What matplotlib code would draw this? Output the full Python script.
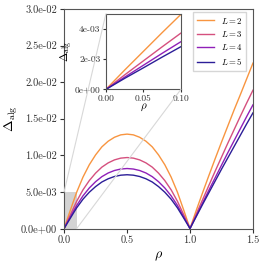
import numpy as np
import matplotlib
matplotlib.use('Agg')
import matplotlib.pyplot as plt
from matplotlib.patches import Rectangle, ConnectionPatch
from matplotlib.ticker import FormatStrFormatter

plt.rcParams['font.family'] = 'serif'
plt.rcParams['font.serif'] = ['cmr10', 'DejaVu Serif']
plt.rcParams['mathtext.fontset'] = 'cm'
plt.rcParams['axes.unicode_minus'] = False

# valores
rho = [0.0, 0.025, 0.05, 0.075, 0.1, 0.15, 0.2, 0.25, 0.3, 0.35, 0.4, 0.45, 0.5,
       0.55, 0.6, 0.65, 0.7, 0.75, 0.8, 0.85, 0.9, 0.95, 1.0,
       1.05, 1.1, 1.15, 1.2, 1.25, 1.3, 1.35, 1.4, 1.45, 1.5]

d_L2 = [0, 1.28, 2.52, 3.76, 4.97, 7.03, 8.71, 10.06, 11.16, 11.93, 12.47, 12.80, 12.9,
        12.80, 12.47, 11.93, 11.16, 10.06, 8.71, 7.03, 4.97, 2.52, 0,
        2.5, 4.9, 7.25, 9.55, 11.8, 14.0, 16.2, 18.3, 20.45, 22.6]
d_L3 = [0, 0.96, 1.89, 2.82, 3.73, 5.29, 6.55, 7.57, 8.39, 8.97, 9.38, 9.62, 9.7,
        9.62, 9.38, 8.97, 8.39, 7.57, 6.55, 5.29, 3.73, 1.89, 0,
        2.0, 3.95, 5.9, 7.85, 9.75, 11.65, 13.5, 15.35, 17.15, 18.9]
d_L4 = [0, 0.81, 1.60, 2.39, 3.16, 4.47, 5.54, 6.40, 7.09, 7.59, 7.93, 8.13, 8.2,
        8.13, 7.93, 7.59, 7.09, 6.40, 5.54, 4.47, 3.16, 1.60, 0,
        1.75, 3.5, 5.25, 6.95, 8.65, 10.35, 12.0, 13.65, 15.3, 16.9]
d_L5 = [0, 0.73, 1.43, 2.14, 2.83, 4.01, 4.96, 5.73, 6.36, 6.80, 7.11, 7.29, 7.35,
        7.29, 7.11, 6.80, 6.36, 5.73, 4.96, 4.01, 2.83, 1.43, 0,
        1.65, 3.3, 4.9, 6.5, 8.1, 9.65, 11.2, 12.75, 14.3, 15.8]

Ls = [2, 3, 4, 5]
series = [d_L2, d_L3, d_L4, d_L5]
cores = ['#f89540', '#d5507e', '#9020b8', '#2c1e98']

fig = plt.figure(figsize=(2.66, 2.63), dpi=100)
ax = fig.add_axes([0.241, 0.131, 0.710, 0.835])

for L, d, c in zip(Ls, series, cores):
    ax.plot(rho, np.array(d) * 1e-3, color=c, lw=1.0, label=r'$L=%d$' % L)

ax.set_xlim(0, 1.5)
ax.set_ylim(0, 0.03)
ax.set_xticks([0.0, 0.5, 1.0, 1.5])
ax.set_yticks(np.arange(0, 0.0301, 0.005))
ax.xaxis.set_major_formatter(FormatStrFormatter('%.1f'))
ax.yaxis.set_major_formatter(FormatStrFormatter('%.1e'))
ax.tick_params(labelsize=7.5, colors='#333333', length=3, pad=2)
for s in ax.spines.values():
    s.set_color('#555555')
ax.set_xlabel(r'$\rho$', fontsize=10, labelpad=3)
ax.set_ylabel(r'$\Delta_{\rm alg}$', fontsize=10, labelpad=1)

leg = ax.legend(loc='upper right', fontsize=6.3, handlelength=2.0,
                handletextpad=0.7, borderpad=0.4, labelspacing=0.4,
                fancybox=False, bbox_to_anchor=(246 / 266, 1 - 12 / 263),
                bbox_transform=fig.transFigure, borderaxespad=0)
leg.get_frame().set_edgecolor('#cccccc')

# regiao ampliada
ax.add_patch(Rectangle((0, 0), 0.1, 0.005, facecolor='#d3d3d3', edgecolor='none', zorder=0.5))

axins = fig.add_axes([0.398, 0.660, 0.282, 0.287])
for L, d, c in zip(Ls, series, cores):
    axins.plot(rho, np.array(d) * 1e-3, color=c, lw=1.0)
axins.set_xlim(0, 0.1)
axins.set_ylim(0, 0.005)
axins.set_xticks([0.0, 0.05, 0.10])
axins.set_yticks([0, 0.002, 0.004])
axins.xaxis.set_major_formatter(FormatStrFormatter('%.2f'))
axins.yaxis.set_major_formatter(FormatStrFormatter('%.0e'))
axins.tick_params(labelsize=6.8, colors='#333333', length=2.5, pad=1.5)
for s in axins.spines.values():
    s.set_color('#555555')
axins.set_xlabel(r'$\rho$', fontsize=8, labelpad=-1)
axins.set_ylabel(r'$\Delta_{\rm alg}$', fontsize=8, labelpad=0)

for xa, ya in [(0, 0.005), (0.1, 0)]:
    con = ConnectionPatch(xyA=(xa, ya), coordsA=ax.transData,
                          xyB=(xa, ya), coordsB=axins.transData,
                          color='#d8d8d8', lw=0.8, zorder=0.6)
    fig.add_artist(con)

fig.savefig('out.png', dpi=100)
